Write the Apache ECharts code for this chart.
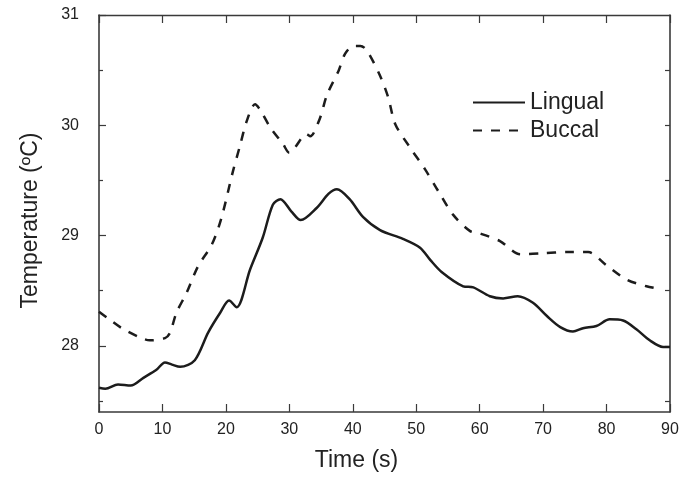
<!DOCTYPE html>
<html>
<head>
<meta charset="utf-8">
<script src="https://cdn.jsdelivr.net/npm/echarts@6/dist/echarts.min.js"></script>
<style>
  html, body { margin: 0; padding: 0; background: #fff; }
  #main { width: 686px; height: 477px; }
</style>
</head>
<body>
<div id="main"></div>
<script>
// temperature traces
var lingualTime = [0, 1, 3, 5, 7, 9, 10.4, 11.5, 12.8, 15.1, 17.2, 19.1, 20.5, 21.7, 23.8, 25.8, 27.4, 28.6, 30.3, 31.8, 34.3, 36.2, 37.5, 39.5, 41.6, 44.3, 47.9, 50.6, 52.2, 54, 57.4, 59, 61.6, 63.7, 66, 68.4, 70.6, 72.7, 74.7, 76.3, 78.4, 80.5, 82.6, 84.7, 86.8, 88.9, 90];
var lingualTemp = [27.62, 27.61, 27.65, 27.64, 27.71, 27.78, 27.85, 27.83, 27.81, 27.87, 28.12, 28.30, 28.41, 28.35, 28.69, 28.98, 29.28, 29.33, 29.22, 29.14, 29.25, 29.38, 29.42, 29.33, 29.17, 29.05, 28.97, 28.89, 28.78, 28.67, 28.54, 28.53, 28.45, 28.43, 28.45, 28.39, 28.27, 28.17, 28.13, 28.16, 28.18, 28.24, 28.23, 28.15, 28.05, 27.99, 27.99];

var buccalTime = [0, 1.4, 3.6, 6.7, 8, 10.4, 11.2, 12.2, 13.8, 15.6, 17.8, 19.3, 21.1, 22.2, 23.3, 24.6, 25.4, 27, 29, 30, 30.9, 32.7, 33.3, 34.8, 35.9, 37.8, 38.8, 40.1, 41.2, 42.2, 44.3, 45.6, 46.7, 49, 51.4, 53.5, 55.8, 58.5, 60, 63.2, 66.4, 70, 73.7, 77.1, 80, 83.2, 86.3, 88];
var buccalTemp = [28.31, 28.25, 28.16, 28.07, 28.05, 28.07, 28.12, 28.30, 28.48, 28.72, 28.92, 29.16, 29.58, 29.81, 30.04, 30.19, 30.14, 29.98, 29.83, 29.75, 29.80, 29.92, 29.90, 30.06, 30.27, 30.50, 30.65, 30.72, 30.72, 30.68, 30.45, 30.25, 30.01, 29.80, 29.60, 29.40, 29.19, 29.04, 29.02, 28.95, 28.83, 28.84, 28.85, 28.85, 28.73, 28.60, 28.54, 28.52];

var xTicks = [0, 10, 20, 30, 40, 50, 60, 70, 80, 90];
var yLabels = [28, 29, 30, 31];
var yHalfTicks = [27.5, 28.5, 29.5, 30.5];
var yAllTicks = [27.5, 28, 28.5, 29, 29.5, 30, 30.5];

function pairs(xs, ys) {
  var out = [];
  for (var i = 0; i < xs.length; i++) out.push([xs[i], ys[i]]);
  return out;
}

var chart = echarts.init(document.getElementById('main'));
var ink = '#1c1c1c';
var frame = '#3a3a3a';
var font = 'Liberation Sans, Arial, sans-serif';

var option = {
  backgroundColor: '#fff',
  animation: false,
  grid: { left: 99, right: 16, top: 15, bottom: 65 },
  legend: {
    orient: 'vertical',
    left: 467,
    top: 86,
    itemWidth: 52,
    itemHeight: 14,
    itemGap: 5,
    itemStyle: { opacity: 0 },
    textStyle: { fontFamily: font, fontSize: 23, color: '#222' },
    data: ['Lingual', 'Buccal']
  },
  xAxis: [{
    type: 'value',
    min: 0, max: 90, interval: 10,
    name: 'Time (s)',
    nameLocation: 'middle',
    nameGap: 37,
    nameTextStyle: { fontFamily: font, fontSize: 23, color: '#222', padding: [0, 56, 0, 0] },
    axisLine: { lineStyle: { color: frame, width: 1.6 } },
    axisTick: { inside: true, length: 8, lineStyle: { color: frame, width: 1.2 } },
    axisLabel: { fontFamily: font, fontSize: 16, color: '#222', margin: 10,
      customValues: xTicks },
    splitLine: { show: false }
  }, {
    type: 'value',
    position: 'top',
    min: 0, max: 90, interval: 10,
    axisLine: { show: true, lineStyle: { color: frame, width: 1.4 } },
    axisTick: { show: true, inside: true, length: 8, lineStyle: { color: frame, width: 1.2 } },
    axisLabel: { show: false },
    splitLine: { show: false }
  }],
  yAxis: [{
    type: 'value',
    min: 27.4, max: 31,
    name: 'Temperature (\u00baC)',
    nameLocation: 'middle',
    nameGap: 57,
    nameTextStyle: { fontFamily: font, fontSize: 23, color: '#222', padding: [0, 14, 0, 0] },
    axisLine: { show: true, lineStyle: { color: frame, width: 1.6 } },
    axisTick: { show: true, inside: true, length: 7, customValues: yLabels,
      lineStyle: { color: frame, width: 1.2 } },
    axisLabel: { fontFamily: font, fontSize: 16, color: '#222', margin: 20,
      customValues: yLabels },
    splitLine: { show: false }
  }, {
    type: 'value',
    position: 'left',
    min: 27.4, max: 31,
    axisLine: { show: false },
    axisTick: { show: true, inside: true, length: 4, customValues: yHalfTicks,
      lineStyle: { color: frame, width: 1.2 } },
    axisLabel: { show: false },
    splitLine: { show: false }
  }, {
    type: 'value',
    position: 'right',
    min: 27.4, max: 31,
    axisLine: { show: true, lineStyle: { color: frame, width: 1.6 } },
    axisTick: { show: true, inside: true, length: 5, customValues: yAllTicks,
      lineStyle: { color: frame, width: 1.2 } },
    axisLabel: { show: false },
    splitLine: { show: false }
  }],
  series: [{
    name: 'Lingual',
    type: 'line',
    smooth: 0.3,
    symbol: 'none',
    data: pairs(lingualTime, lingualTemp),
    lineStyle: { color: ink, width: 2.5 },
    itemStyle: { color: ink }
  }, {
    name: 'Buccal',
    type: 'line',
    smooth: 0.3,
    symbol: 'none',
    data: pairs(buccalTime, buccalTemp),
    lineStyle: { color: ink, width: 2.5, type: [9, 9] },
    itemStyle: { color: ink }
  }]
};
chart.setOption(option);
</script>
</body>
</html>
